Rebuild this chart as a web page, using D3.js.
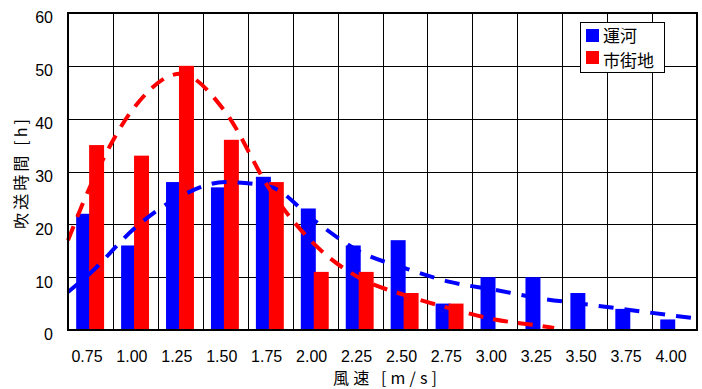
<!DOCTYPE html>
<html>
<head>
<meta charset="utf-8">
<script src="https://cdn.jsdelivr.net/npm/d3@7"></script>
<style>
  body { margin: 0; background: #fff; }
  svg { display: block; }
  .tick-label { font-family: "Liberation Sans", Arial, sans-serif; font-size: 16px; fill: #000; }
  .jp { font-family: "Noto Sans CJK JP", sans-serif; fill: #000; }
</style>
</head>
<body>
<svg id="chart" width="702" height="389"></svg>
<script>
// Wind speed classes (x categories).
var speeds = ["0.75", "1.00", "1.25", "1.50", "1.75", "2.00", "2.25",
              "2.50", "2.75", "3.00", "3.25", "3.50", "3.75", "4.00"];

// Blowing hours per class [h].
var canal = [22, 16, 28, 27, 29, 23, 16, 17, 5, 10, 10, 7, 4, 2];
var urban = [35, 33, 50, 36, 28, 11, 11, 7, 5, 0, 0, 0, 0, 0];

// Fitted curves (wind speed, hours).
var canalFitX = [0.625, 0.75, 1.00, 1.25, 1.50, 1.75, 2.00, 2.25, 2.50, 2.75, 3.00, 3.25, 3.50, 3.75, 4.00, 4.125];
var canalFitY = [7.2, 10.8, 19.4, 25.3, 28.0, 27.1, 20.6, 14.8, 11.7, 9.1, 7.6, 6.0, 4.9, 3.8, 2.7, 2.2];
var urbanFitX = [0.625, 0.75, 1.00, 1.25, 1.50, 1.75, 2.00, 2.25, 2.50, 2.75, 3.00, 3.25, 3.33];
var urbanFitY = [17.0, 27.3, 42.4, 48.5, 41.3, 26.5, 16.1, 9.8, 6.6, 4.1, 2.0, 0.8, 0.4];

var yTicks = [0, 10, 20, 30, 40, 50, 60];

var legendItems = [{name: "運河", color: "#0000ff"},
                   {name: "市街地", color: "#ff0000"}];

var svg = d3.select("#chart");
var plotL = 68, plotR = 697, plotT = 13, plotB = 330;

var x = d3.scaleBand()
    .domain(speeds)
    .range([plotL, plotR])
    .padding(0);

var bw = x.bandwidth();
var barW = bw / 3;

// continuous wind speed axis for the curves, aligned to the band centres
var xs = d3.scaleLinear()
    .domain([0.625, 4.125])
    .range([plotL, plotR]);

var y = d3.scaleLinear()
    .domain([0, 60])
    .range([plotB, plotT]);

// Grid lines.
var grid = svg.append("g");
grid.selectAll(".hgrid")
  .data(yTicks)
  .enter().append("line")
  .attr("x1", plotL).attr("x2", plotR)
  .attr("y1", function(d) { return Math.round(y(d)) + 0.5; })
  .attr("y2", function(d) { return Math.round(y(d)) + 0.5; })
  .attr("stroke", "#000")
  .attr("stroke-width", 1);

grid.selectAll(".vgrid")
  .data(speeds.slice(1))
  .enter().append("line")
  .attr("x1", function(d) { return Math.round(x(d)) + 0.5; })
  .attr("x2", function(d) { return Math.round(x(d)) + 0.5; })
  .attr("y1", plotT).attr("y2", plotB)
  .attr("stroke", "#000")
  .attr("stroke-width", 1);

// Bars.
var bars = svg.append("g");
bars.selectAll(".canal")
  .data(canal)
  .enter().append("rect")
  .attr("x", function(d, i) { return x(speeds[i]) + bw / 2 - bw * 0.318; })
  .attr("y", function(d) { return y(d); })
  .attr("width", barW)
  .attr("height", function(d) { return y(0) - y(d); })
  .attr("fill", "#0000ff");

bars.selectAll(".urban")
  .data(urban)
  .enter().append("rect")
  .attr("x", function(d, i) { return x(speeds[i]) + bw / 2 - bw * 0.03; })
  .attr("y", function(d) { return y(d); })
  .attr("width", barW)
  .attr("height", function(d) { return y(0) - y(d); })
  .attr("fill", "#ff0000");

// Dashed fitted curves.
var line = d3.line()
    .x(function(d) { return xs(d[0]); })
    .y(function(d) { return y(d[1]); })
    .curve(d3.curveMonotoneX);

svg.append("path")
  .datum(canalFitX.map(function(v, i) { return [v, canalFitY[i]]; }))
  .attr("d", line)
  .attr("fill", "none")
  .attr("stroke", "#0000ff")
  .attr("stroke-width", 4)
  .attr("stroke-dasharray", "15,11");

svg.append("path")
  .datum(urbanFitX.map(function(v, i) { return [v, urbanFitY[i]]; }))
  .attr("d", line)
  .attr("fill", "none")
  .attr("stroke", "#ff0000")
  .attr("stroke-width", 4)
  .attr("stroke-dasharray", "15,10");

// Plot frame.
svg.append("rect")
  .attr("x", plotL).attr("y", plotT)
  .attr("width", plotR - plotL).attr("height", plotB - plotT)
  .attr("fill", "none")
  .attr("stroke", "#000")
  .attr("stroke-width", 2);

// Axes (labels only, no tick marks).
var yAxis = d3.axisLeft(y).tickValues(yTicks).tickSize(0).tickPadding(15);
svg.append("g")
  .attr("transform", "translate(" + plotL + ",0)")
  .call(yAxis)
  .call(function(g) { g.select(".domain").remove(); })
  .selectAll("text")
  .attr("class", "tick-label")
  .attr("dy", "0.62em");

var xAxis = d3.axisBottom(x).tickSize(0).tickPadding(21);
svg.append("g")
  .attr("transform", "translate(0," + plotB + ")")
  .call(xAxis)
  .call(function(g) { g.select(".domain").remove(); })
  .selectAll("text")
  .attr("class", "tick-label")
  .attr("dx", -3.5);

// Axis titles.
svg.append("text")
  .attr("class", "jp")
  .attr("x", 385).attr("y", 384)
  .attr("text-anchor", "middle")
  .attr("textLength", 104)
  .attr("lengthAdjust", "spacing")
  .style("font-size", "16px")
  .text("風速 [m/s]");

svg.append("text")
  .attr("class", "jp")
  .attr("transform", "translate(27,174) rotate(-90)")
  .attr("text-anchor", "middle")
  .attr("textLength", 110)
  .attr("lengthAdjust", "spacing")
  .style("font-size", "16px")
  .text("吹送時間 [h]");

// Legend.
var legend = svg.append("g").attr("transform", "translate(580.5,22.5)");
legend.append("rect")
  .attr("width", 84).attr("height", 50)
  .attr("fill", "#fff")
  .attr("stroke", "#000")
  .attr("stroke-width", 1);

legend.selectAll(".swatch")
  .data(legendItems)
  .enter().append("rect")
  .attr("class", "swatch")
  .attr("x", 5.5)
  .attr("y", function(d, i) { return 6.5 + i * 22; })
  .attr("width", 13).attr("height", 13)
  .attr("fill", function(d) { return d.color; });

legend.selectAll(".label")
  .data(legendItems)
  .enter().append("text")
  .attr("class", "jp label")
  .attr("x", 22.5)
  .attr("y", function(d, i) { return 19.5 + i * 25; })
  .style("font-size", "17px")
  .text(function(d) { return d.name; });
</script>
</body>
</html>
